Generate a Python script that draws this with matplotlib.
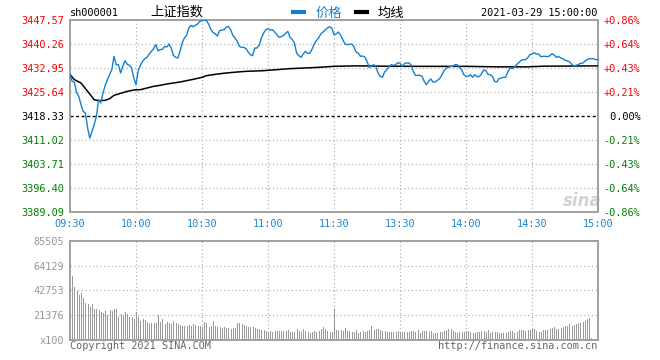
import matplotlib
matplotlib.use("Agg")
import matplotlib.pyplot as plt
from matplotlib.lines import Line2D

# ---------------- data ----------------
minutes = list(range(241))
prices = [
    3430.92, 3428.89, 3428.60, 3425.50, 3424.30, 3421.78, 3419.75, 3419.20, 3414.67, 3411.60,
    3413.66, 3415.69, 3418.20, 3423.30, 3422.29, 3425.33, 3427.67, 3429.40, 3430.92, 3432.44,
    3436.50, 3433.97, 3433.97, 3431.43, 3433.46, 3435.18, 3434.07, 3433.76, 3432.95, 3429.90,
    3427.87, 3432.14, 3433.76, 3434.98, 3435.79, 3436.20, 3437.21, 3438.03, 3438.84, 3440.06,
    3438.13, 3438.53, 3438.64, 3439.50, 3439.35, 3440.26, 3439.00, 3436.81, 3436.20, 3436.00,
    3438.03, 3440.56, 3442.09, 3442.90, 3445.13, 3445.95, 3445.50, 3445.95, 3446.35, 3447.16,
    3447.37, 3447.50, 3447.37, 3446.35, 3444.73, 3443.81, 3443.31, 3442.70, 3444.32, 3444.50,
    3444.63, 3445.34, 3445.64, 3444.63, 3442.90, 3442.09, 3441.07, 3439.55, 3439.24, 3439.24,
    3438.84, 3437.82, 3437.01, 3436.70, 3439.04, 3439.04, 3439.85, 3442.09, 3443.61, 3444.63,
    3444.93, 3444.50, 3444.63, 3443.92, 3443.10, 3442.29, 3442.50, 3442.80, 3443.50, 3444.12,
    3442.29, 3441.68, 3440.56, 3437.52, 3436.70, 3436.20, 3437.21, 3438.03, 3437.40, 3437.40,
    3438.64, 3440.26, 3441.28, 3442.09, 3443.31, 3443.92, 3444.50, 3445.13, 3445.50, 3445.13,
    3443.10, 3443.31, 3443.92, 3442.90, 3441.58, 3440.26, 3440.06, 3440.16, 3440.26, 3439.55,
    3437.82, 3437.52, 3436.50, 3436.60, 3436.30, 3434.98, 3433.15, 3433.46, 3433.97, 3433.46,
    3431.43, 3430.41, 3430.11, 3431.73, 3432.44, 3433.35, 3433.97, 3433.76, 3433.97, 3434.57,
    3434.37, 3433.46, 3434.27, 3434.47, 3434.47, 3433.97, 3431.93, 3430.72, 3430.72, 3430.72,
    3430.41, 3428.89, 3427.87, 3428.89, 3429.60, 3428.69, 3428.69, 3429.19, 3429.70, 3430.72,
    3432.14, 3432.85, 3433.15, 3433.46, 3433.46, 3433.97, 3433.97, 3433.15, 3432.44, 3430.92,
    3430.41, 3430.41, 3430.92, 3430.11, 3430.92, 3430.31, 3430.31, 3431.12, 3432.34, 3432.14,
    3431.02, 3430.92, 3430.41, 3428.89, 3428.69, 3429.70, 3429.90, 3430.11, 3430.11, 3431.73,
    3432.95, 3432.75, 3433.15, 3433.97, 3434.57, 3435.29, 3435.49, 3435.49, 3436.00, 3437.01,
    3437.21, 3437.62, 3437.21, 3437.21, 3436.40, 3436.50, 3436.50, 3436.40, 3436.60, 3437.30,
    3437.01, 3436.20, 3436.50, 3436.00, 3435.79, 3435.29, 3435.08, 3434.88, 3434.17, 3433.46,
    3433.76, 3433.97, 3434.37, 3434.37, 3434.98, 3435.49, 3435.79, 3435.79, 3435.79, 3435.49,
    3435.49,
]
avg_minutes = [0, 2, 5, 8, 11, 13, 16, 18, 20, 23, 26, 29, 32, 35, 38, 41, 44, 47, 50, 53,
               56, 60, 62, 67, 71, 76, 80, 88, 100, 113, 120, 130, 142, 160, 180, 195, 208, 215, 240]
avg_values = [3430.92, 3429.40, 3428.38, 3425.84, 3423.30, 3423.00, 3423.10, 3423.61, 3424.62,
              3425.23, 3425.84, 3426.25, 3426.35, 3426.86, 3427.37, 3427.67, 3428.08, 3428.38,
              3428.69, 3429.09, 3429.50, 3430.11, 3430.61, 3431.12, 3431.43, 3431.73, 3431.93,
              3432.14, 3432.75, 3433.15, 3433.46, 3433.60, 3433.50, 3433.45, 3433.45, 3433.30,
              3433.30, 3433.50, 3433.60]
volumes = [  # x100 shares
    85505, 55100, 45300, 42500, 38700, 40200, 35900, 31600, 30700, 28700,
    31000, 26700, 26700, 25800, 24400, 23000, 25000, 21500, 25800, 25200,
    26700, 26400, 20100, 22400, 20700, 24100, 22400, 20100, 19500, 17800,
    23800, 20100, 16600, 18100, 17200, 15800, 13800, 14900, 14300, 14900,
    21500, 15800, 18400, 13800, 15800, 14900, 13800, 16600, 14300, 13500,
    12600, 12100, 12100, 12100, 12600, 12300, 13800, 12900, 12300, 12300,
    10900, 15800, 14300, 11500, 12300, 16600, 12100, 10900, 11500, 10600,
    10900, 10000, 10000, 9800, 10000, 10000, 14300, 14300, 13800, 12900,
    12300, 11500, 10900, 11500, 10000, 9200, 9500, 8600, 8600, 7700,
    7200, 7700, 7200, 7700, 7700, 7700, 7700, 7700, 7700, 8600,
    6900, 7200, 7200, 9200, 7700, 7200, 9500, 7500, 6900, 6300,
    6600, 7700, 6600, 8000, 9200, 11500, 9800, 8000, 6900, 6600,
    26700, 8600, 8600, 8600, 7700, 10000, 7700, 7700, 6600, 7200,
    8600, 6300, 7200, 7700, 7200, 7700, 8600, 12300, 8600, 9200,
    9800, 8600, 7700, 7700, 7200, 6900, 7200, 6900, 7200, 7700,
    7200, 6900, 6900, 6900, 6900, 7700, 7700, 6900, 8600, 6300,
    7700, 7700, 7700, 7200, 7700, 6300, 6300, 6300, 6900, 7200,
    7700, 8600, 9800, 9200, 7700, 7200, 6300, 6600, 7200, 7200,
    7700, 7700, 6900, 6300, 6300, 7200, 6900, 7700, 7700, 6900,
    8600, 6300, 6900, 6900, 6900, 6300, 6300, 6300, 5700, 6900,
    7700, 7700, 6300, 6900, 8600, 8600, 8600, 7700, 8600, 8600,
    9800, 9200, 7700, 6900, 6900, 8600, 8600, 8600, 9500, 10000,
    11200, 9800, 9800, 10000, 10900, 12300, 12100, 13500, 12300, 12900,
    13500, 14300, 14900, 15500, 16600, 18400, 19200, 1400, 0, 0,
    0,
]
price_levels = [3447.57, 3440.26, 3432.95, 3425.64, 3418.33, 3411.02, 3403.71, 3396.40, 3389.09]
price_labels = ["3447.57", "3440.26", "3432.95", "3425.64", "3418.33",
                "3411.02", "3403.71", "3396.40", "3389.09"]
pct_labels = ["+0.86%", "+0.64%", "+0.43%", "+0.21%", " 0.00%",
              "-0.21%", "-0.43%", "-0.64%", "-0.86%"]
prev_close = 3418.33
time_ticks = [0, 30, 60, 90, 120, 150, 180, 210, 240]
time_labels = ["09:30", "10:00", "10:30", "11:00", "11:30", "13:30", "14:00", "14:30", "15:00"]
vol_ticks = [0, 21376, 42753, 64129, 85505]
vol_labels = ["x100", "21376", "42753", "64129", "85505"]

# ---------------- style ----------------
BLUE = "#1580d0"
TICKBLUE = "#1a88d8"
RED = "#ff0000"
GREEN = "#008000"
GRAY = "#999999"
SPINE = "#a0a0a0"
GRID = "#b4b4b4"
MONO = "DejaVu Sans Mono"
CJK = ["Noto Sans CJK SC", "DejaVu Sans"]
FS = 7.4

W, H = 660, 360
fig = plt.figure(figsize=(W / 100, H / 100), dpi=100)
fig.patch.set_facecolor("white")


def rect(x0, y0, x1, y1):
    return [x0 / W, 1 - y1 / H, (x1 - x0) / W, (y1 - y0) / H]


# ---------------- price panel ----------------
ax = fig.add_axes(rect(70, 20, 598, 212))
ax.set_xlim(0, 240)
ax.set_ylim(price_levels[-1], price_levels[0])
for m in time_ticks[1:-1]:
    ax.axvline(m, color=GRID, lw=0.9, ls=(0, (1, 2)), zorder=0)
for lv in price_levels[1:-1]:
    if abs(lv - prev_close) < 1e-6:
        ax.axhline(lv, color="black", lw=1.0, ls=(0, (2.2, 1.8)), zorder=1)
    else:
        ax.axhline(lv, color=GRID, lw=0.9, ls=(0, (1, 2)), zorder=0)

ax.plot(avg_minutes, avg_values, color="black", lw=1.1, zorder=3)
ax.plot(minutes, prices, color=BLUE, lw=1.0, zorder=4)

label_colors = [RED if lv > prev_close + 1e-6 else (GREEN if lv < prev_close - 1e-6 else "black")
                for lv in price_levels]
ax.set_yticks(price_levels)
ax.set_yticklabels(price_labels, fontfamily=MONO, fontsize=FS)
for t, c in zip(ax.get_yticklabels(), label_colors):
    t.set_color(c)
ax.set_xticks(time_ticks)
ax.set_xticklabels(time_labels, fontfamily=MONO, fontsize=FS, color=TICKBLUE)
ax.tick_params(axis="both", length=0)
ax.tick_params(axis="y", pad=4.5)
ax.tick_params(axis="x", pad=5)
for s in ax.spines.values():
    s.set_color(SPINE)
    s.set_linewidth(1.4)

ax2 = ax.twinx()
ax2.set_ylim(ax.get_ylim())
ax2.set_yticks(price_levels)
ax2.set_yticklabels(pct_labels, fontfamily=MONO, fontsize=FS)
for t, c in zip(ax2.get_yticklabels(), label_colors):
    t.set_color(c)
ax2.tick_params(axis="y", length=0, pad=4)
for s in ax2.spines.values():
    s.set_visible(False)

ax.text(0.97, 0.055, "sina", transform=ax.transAxes, ha="center", va="center",
        fontsize=12, fontstyle="italic", fontweight="bold", color="#d2d2d2", zorder=2)

# ---------------- volume panel ----------------
axv = fig.add_axes(rect(70, 240.7, 598, 340))
axv.set_xlim(0, 240)
axv.set_ylim(0, vol_ticks[-1])
for m in time_ticks[1:-1]:
    axv.axvline(m, color=GRID, lw=0.9, ls=(0, (1, 2)), zorder=0)
for v in vol_ticks[1:-1]:
    axv.axhline(v, color=GRID, lw=0.9, ls=(0, (1, 2)), zorder=0)
axv.bar(minutes, volumes, width=0.48, align="edge", color=GRAY, linewidth=0, zorder=2)
axv.set_yticks(vol_ticks)
axv.set_yticklabels(vol_labels, fontfamily=MONO, fontsize=FS, color=GRAY)
axv.set_xticks([])
axv.tick_params(axis="y", length=0, pad=4.5)
for s in axv.spines.values():
    s.set_color(SPINE)
    s.set_linewidth(1.4)

# ---------------- header / footer ----------------
fig.text(70 / W, 1 - 13 / H, "sh000001", fontfamily=MONO, fontsize=FS, ha="left", va="center")
fig.text(150 / W, 1 - 12.5 / H, "上证指数", family=CJK, fontsize=9.5, ha="left", va="center")
fig.text(597 / W, 1 - 13 / H, "2021-03-29 15:00:00", fontfamily=MONO, fontsize=FS,
         ha="right", va="center")
handles = [Line2D([], [], color=BLUE, lw=3), Line2D([], [], color="black", lw=3)]
leg = fig.legend(handles, ["价格", "均线"], loc="center", bbox_to_anchor=(349 / W, 1 - 13 / H),
                 ncol=2, frameon=False, handlelength=0.8, handletextpad=0.85,
                 columnspacing=1.1, borderpad=0, prop={"family": CJK, "size": 9.5})
leg.get_texts()[0].set_color(BLUE)
leg.get_texts()[1].set_color("black")

fig.text(70 / W, 1 - 346 / H, "Copyright 2021 SINA.COM", fontfamily=MONO, fontsize=FS,
         color="#666666", ha="left", va="center")
fig.text(597 / W, 1 - 346 / H, "http://finance.sina.com.cn", fontfamily=MONO, fontsize=FS,
         color="#666666", ha="right", va="center")

fig.savefig("out.png", dpi=100, facecolor="white")
